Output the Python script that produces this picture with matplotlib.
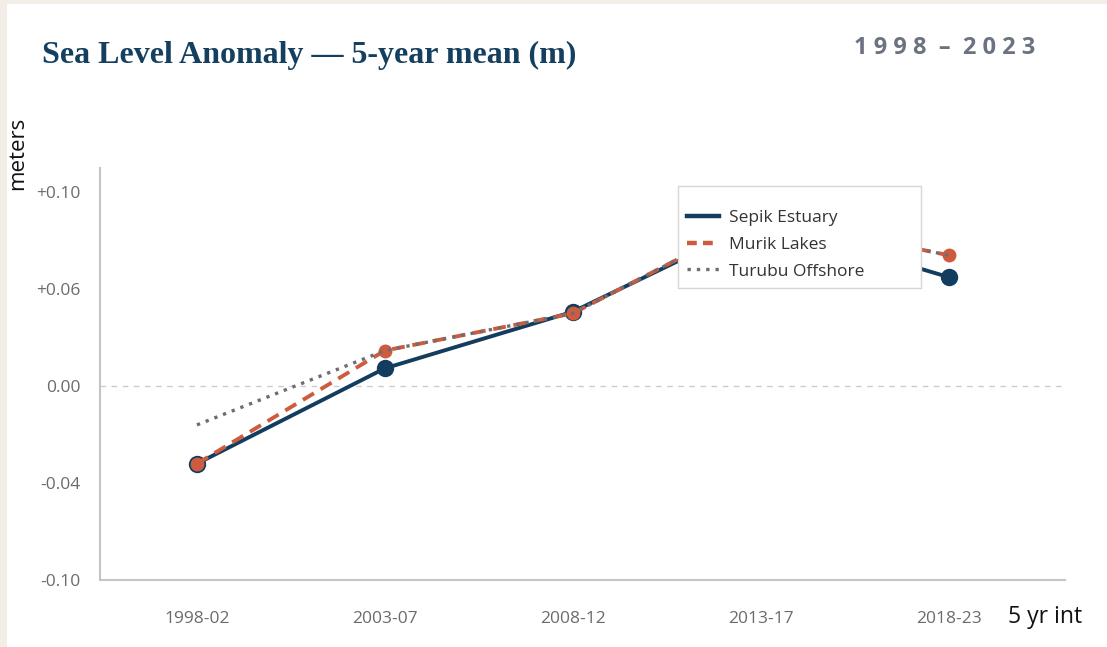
# Sea level anomaly, 5-year means, three stations
import numpy as np
import matplotlib.pyplot as plt
from matplotlib.patches import Rectangle
from matplotlib.lines import Line2D

# ============================================
# Data
# ============================================
periods = ["1998-02", "2003-07", "2008-12", "2013-17", "2018-23"]
sepik = [-0.032, 0.011, 0.046, 0.088, 0.065]
murik = [-0.032, 0.022, 0.045, 0.090, 0.074]
turubu = [-0.016, 0.022, 0.045, 0.090, 0.074]

tick_vals = [-0.10, -0.04, 0.00, 0.06, 0.10]
tick_labels = ["-0.10", "-0.04", "0.00", "+0.06", "+0.10"]

# ============================================
# Axis scale: tick values are spaced evenly on the chart
# ============================================
pos = np.arange(len(tick_vals), dtype=float)
tv = np.array(tick_vals)


def forward(v):
    v = np.asarray(v, dtype=float)
    out = np.interp(v, tv, pos)
    lo = v < tv[0]
    hi = v > tv[-1]
    out[lo] = (v[lo] - tv[0]) / (tv[1] - tv[0])
    out[hi] = pos[-1] + (v[hi] - tv[-1]) / (tv[-1] - tv[-2])
    return out


def inverse(p):
    p = np.asarray(p, dtype=float)
    out = np.interp(p, pos, tv)
    lo = p < pos[0]
    hi = p > pos[-1]
    out[lo] = tv[0] + p[lo] * (tv[1] - tv[0])
    out[hi] = tv[-1] + (p[hi] - pos[-1]) * (tv[-1] - tv[-2])
    return out


# ============================================
# Plot
# ============================================
sans = ["Open Sans", "DejaVu Sans"]
navy = "#123d5e"
orange = "#cf5b3f"
gray = "#6e6e6e"
murik_dash = (0, (3.3, 2))
turubu_dot = (0, (1, 1.8))

fig = plt.figure(figsize=(11.07, 6.47), dpi=100)
fig.patch.set_facecolor("#f2eee7")
fig.add_artist(Rectangle((7 / 1107, 0), 1, 1 - 4 / 647, transform=fig.transFigure,
                         facecolor="white", edgecolor="none", zorder=-10))

ax = fig.add_axes([100 / 1107, 1 - 580 / 647, 965 / 1107, 412 / 647])
ax.set_facecolor("none")
ax.set_yscale("function", functions=(forward, inverse))

x = np.arange(len(periods))
ax.axhline(0, color="#cccccc", linewidth=1.0, linestyle=(0, (4, 4)), zorder=1)

ax.plot(x, sepik, color=navy, linewidth=2.8, marker="o", markersize=11.5, zorder=3)
ax.plot(x, murik, color=orange, linewidth=2.8, linestyle=murik_dash, marker="o",
        markersize=10, markeredgewidth=0, zorder=4)
ax.plot(x, turubu, color=gray, linewidth=2.4, linestyle=turubu_dot, zorder=5)

ax.set_xlim(-0.516, 4.62)
ax.set_ylim(-0.10, 0.11)
ax.set_yticks(tick_vals)
ax.set_yticklabels(tick_labels)
ax.set_xticks(x)
ax.set_xticklabels(periods)
ax.yaxis.set_minor_locator(plt.NullLocator())

for s in ["top", "right"]:
    ax.spines[s].set_visible(False)
for s in ["left", "bottom"]:
    ax.spines[s].set_color("#c4c4c4")
    ax.spines[s].set_linewidth(1.5)

ax.tick_params(axis="both", length=0, labelcolor="#6b6b6b", labelsize=12.5)
ax.tick_params(axis="y", pad=14)
ax.tick_params(axis="x", pad=22)
for lbl in ax.get_xticklabels() + ax.get_yticklabels():
    lbl.set_family(sans)

# Legend: lines only, opaque box (blank title pushes entries down a little)
handles = [
    Line2D([], [], color=navy, linewidth=3.2),
    Line2D([], [], color=orange, linewidth=3.2, linestyle=(0, (2.2, 1.4))),
    Line2D([], [], color=gray, linewidth=2.4, linestyle=turubu_dot),
]
labels = ["Sepik Estuary", "Murik Lakes", "Turubu Offshore"]
leg = ax.legend(handles, labels, loc="upper left",
                bbox_to_anchor=(0.599, 0.956 - 97 / 412, 243 / 965, 97 / 412),
                mode="expand", borderaxespad=0, frameon=True, fancybox=False,
                framealpha=1, handlelength=1.85, handletextpad=0.6,
                borderpad=0.5, labelspacing=0.62, title=" ", title_fontsize=3,
                prop={"family": sans, "size": 12.5})
leg.get_frame().set_edgecolor("#d6d6d6")
leg.get_frame().set_linewidth(1.0)
for t in leg.get_texts():
    t.set_color("#333333")
leg.set_zorder(10)

# Titles and labels
fig.text(42 / 1107, 1 - 55 / 647, "Sea Level Anomaly \u2014 5-year mean (m)",
         family=["Liberation Serif", "DejaVu Serif"], fontweight="bold",
         fontsize=23, color="#143f5f", va="center", ha="left")
fig.text(1035 / 1107, 1 - 48 / 647, "1 9 9 8  \u2013  2 0 2 3", family=sans,
         fontweight="bold", fontsize=17, color="#6b7280", va="center", ha="right")
fig.text(18 / 1107, 1 - 117 / 647, "meters", family=sans, fontsize=16,
         color="#111111", rotation=90, va="top", ha="center")
fig.text(1008 / 1107, 1 - 617 / 647, "5 yr int", family=sans, fontsize=16.5,
         color="#111111", va="center", ha="left")

fig.savefig("out.png", dpi=100)
